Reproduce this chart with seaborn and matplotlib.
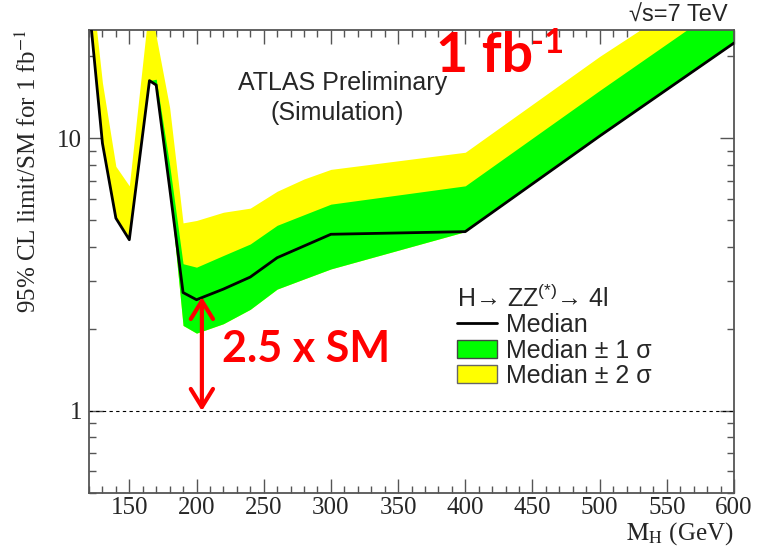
import numpy as np
import pandas as pd
import matplotlib
matplotlib.use("Agg")
import matplotlib.pyplot as plt
import seaborn as sns
from matplotlib.lines import Line2D
from matplotlib.patches import Patch
from matplotlib.ticker import MultipleLocator, FixedLocator, NullFormatter, FixedFormatter

# ---------------- data ----------------
mass = [120, 130, 140, 150, 165, 170, 180, 190, 200, 220, 240, 260, 280, 300, 400, 500, 600]
median = [31, 9.6, 5.1, 4.25, 16.3, 15.7, 6.6, 2.72, 2.56, 2.8, 3.1, 3.65, 4.03, 4.45, 4.55, 10.2, 22.4]
plus1 = [31, 9.6, 5.1, 4.25, 16.3, 16.5, 8.0, 3.47, 3.37, 3.72, 4.1, 4.8, 5.25, 5.74, 6.7, 15.0, 33.0]
plus2 = [45, 16.0, 7.9, 6.7, 32.0, 23.7, 13.0, 4.9, 5.0, 5.36, 5.55, 6.4, 7.1, 7.7, 8.9, 20.0, 42.0]
minus1 = [31, 9.6, 5.1, 4.25, 16.3, 15.7, 6.6, 2.06, 1.93, 2.09, 2.36, 2.8, 3.05, 3.32, 4.55, 10.2, 22.4]
minus2 = [31, 9.6, 5.1, 4.25, 16.3, 15.7, 6.6, 2.06, 1.93, 2.09, 2.36, 2.8, 3.05, 3.32, 4.55, 10.2, 22.4]
sm_level = 1.0
arrow_mass = 204
arrow_top = 2.62

xticks_major = [150, 200, 250, 300, 350, 400, 450, 500, 550, 600]
yticks_major = [1, 10]
ytick_labels = ["1", "10"]

df = pd.DataFrame({"mass": mass, "median": median, "p1": plus1, "p2": plus2,
                   "m1": minus1, "m2": minus2})

# ---------------- style ----------------
sns.set_style("ticks")
plt.rcParams["font.family"] = ["Liberation Sans", "DejaVu Sans"]
plt.rcParams["mathtext.fontset"] = "custom"
plt.rcParams["mathtext.rm"] = "Liberation Sans"
plt.rcParams["mathtext.it"] = "Liberation Sans:italic"
plt.rcParams["mathtext.bf"] = "Liberation Sans:bold"

W, H = 769, 555
fig = plt.figure(figsize=(W / 100, H / 100), dpi=100)
L, R, T, B = 89, 734, 30, 493
ax = fig.add_axes([L / W, 1 - B / H, (R - L) / W, (B - T) / H])

YELLOW = "#ffff00"
GREEN = "#00ff00"

ax.fill_between(df["mass"], df["m2"], df["p2"], color=YELLOW, lw=0, zorder=1)
ax.fill_between(df["mass"], df["m1"], df["p1"], color=GREEN, lw=0, zorder=2)
sns.lineplot(data=df, x="mass", y="median", color="black", lw=2, ax=ax, zorder=3)
ax.axhline(sm_level, color="black", lw=0.8, ls=(0, (3, 3)), zorder=2)

ax.set_yscale("log")
ax.set_xlim(120, 600)
ax.set_ylim(0.5, 25)

# ticks ROOT-style: inward, all four sides
serif = ["Liberation Serif", "DejaVu Serif"]
ax.xaxis.set_major_locator(FixedLocator(xticks_major))
ax.xaxis.set_minor_locator(MultipleLocator(10))
ax.yaxis.set_major_locator(FixedLocator(yticks_major))
ax.yaxis.set_major_formatter(FixedFormatter(ytick_labels))
ax.yaxis.set_minor_locator(FixedLocator([0.5, 0.6, 0.7, 0.8, 0.9, 2, 3, 4, 5, 6, 7, 8, 9, 20]))
ax.yaxis.set_minor_formatter(NullFormatter())
ax.tick_params(which="both", direction="in", top=True, right=True, color="#555555", width=1)
ax.tick_params(which="major", length=10)
ax.tick_params(which="minor", length=5)
ax.tick_params(axis="x", which="major", pad=3, labelsize=18)
ax.tick_params(axis="y", which="major", pad=5, labelsize=18)
for lab in ax.get_xticklabels() + ax.get_yticklabels():
    lab.set_fontfamily(serif)
for sp in ax.spines.values():
    sp.set_color("#555555")
    sp.set_linewidth(1.3)
    sp.set_visible(True)

ax.set_xlabel(r"$\mathrm{M_H}$ (GeV)", fontsize=18, family=serif, math_fontfamily="stix", loc="right")
ax.xaxis.set_label_coords(1.0, -0.058)
ax.set_ylabel(r"95% CL limit/SM for 1 fb$^{-1}$", fontsize=18, family=serif, math_fontfamily="stix", loc="top")
ax.yaxis.set_label_coords(-0.075, 1.0)

# legend
handles = [Line2D([], [], color="black", lw=2),
           Patch(facecolor=GREEN, edgecolor="#444444", lw=1),
           Patch(facecolor=YELLOW, edgecolor="#666666", lw=1)]
labels = ["Median", "Median ± 1 σ", "Median ± 2 σ"]
leg = ax.legend(handles, labels, title="H→ ZZ$^{(*)}$→ 4l", loc="upper left",
                bbox_to_anchor=(457 / W, 1 - 285 / H), bbox_transform=fig.transFigure,
                frameon=False, fontsize=18, title_fontsize=18, borderpad=0,
                labelspacing=0.05, handlelength=1.6, handleheight=0.75,
                handletextpad=0.35, borderaxespad=0)
leg._legend_box.align = "left"

# annotations
fig.text(343 / W, 1 - 83 / H, "ATLAS Preliminary", ha="center", va="center", fontsize=18)
fig.text(337 / W, 1 - 113 / H, "(Simulation)", ha="center", va="center", fontsize=18)
fig.text(728 / W, 1 - 16 / H, "√s=7 TeV", ha="right", va="center", fontsize=17)

fig.text(436 / W, 1 - 72 / H, "1 fb", ha="left", va="baseline", fontsize=40,
         family=["Lato", "DejaVu Sans"], fontweight="bold", color="red")
fig.text(531 / W, 1 - 27 / H, "-1", ha="left", va="top", fontsize=25,
         family=["Lato", "DejaVu Sans"], fontweight="bold", color="red")
fig.text(222 / W, 1 - 362 / H, "2.5 x SM", ha="left", va="baseline", fontsize=31,
         family=["Lato", "DejaVu Sans"], fontweight="bold", color="red")

ax.annotate("", xy=(arrow_mass, arrow_top), xytext=(arrow_mass, sm_level),
            arrowprops=dict(arrowstyle="<->,head_length=1.3,head_width=0.8",
                            color="red", lw=3, shrinkA=0, shrinkB=0), zorder=5)

fig.savefig("out.png", dpi=100)
